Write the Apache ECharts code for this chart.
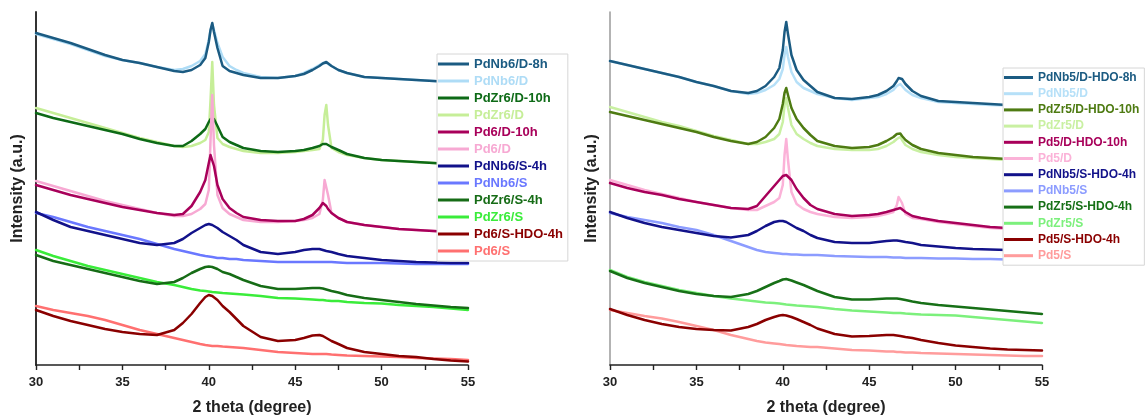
<!DOCTYPE html>
<html>
<head>
<meta charset="utf-8">
<script src="https://cdn.jsdelivr.net/npm/echarts@6/dist/echarts.min.js"></script>
<style>
  html, body { margin: 0; padding: 0; background: #fff; }
  #chart { width: 1147px; height: 417px; }
</style>
</head>
<body>
<div id="chart"></div>
<script>
// 2θ sampling positions (degree), shared by every pattern
const twoTheta = [30,31,32,33,34,35,36,37,38,38.5,39,39.5,39.8,40,40.1,40.2,40.3,40.5,40.8,41.2,41.6,42,43,44,45,45.5,46,46.4,46.6,46.7,46.8,46.9,47.1,47.5,48,49,50,51,52,53,54,55];
const tickLabels = ['30', '35', '40', '45', '50', '55'];

// Panel 1 — intensities (a.u., offset-stacked)
const pdNb6D8h = [332,327,322,316,310,305,302,298,294,293,295,300,307,323,335,342,333,317,299,294,292,290,287,287,289,291,295,299,301.5,303,303,302,299,295,292,288,287,286,285,284,283,282];
const pdNb6D = [331,326,321,315,309,305,302,298,295,296,299,304,311,325,335,341,335,322,308,299,295,292,288,287,289,292,296,300,302,303,302,301,299,295,292,288,287,286,285,284,283,282];
const pdZr6D10h = [252,247,243,239,235,231,226,222,219,219,224,231,236,243,246,248,246,239,228,223,220,217,214,213,214,215,217,219,221,221.5,221,220,218,215,211,207,205,204,203,202,201,200];
const pdZr6D = [257,252,247,242,237,232,227,223,219,218,219,222,225,233,265,303,260,227,221,218,216,214,212,212,213,214,215,216,225,250,260,240,217,213,210,207,205,204,203,202,201,200];
const pd6D10h = [180,175,170,166,162,158,155,152,150,151,159,173,185,202,210,209,199,180,166,157,152,148,145,144,144,146,150,157,162,161,159,156,152,147,143,140,138,136,135,134,133,133];
const pd6D = [184,179,174,169,164,160,156,152,149,149,151,156,161,175,225,270,220,170,157,151,148,145,143,143,144,145,147,151,165,185,187,170,152,147,143,140,138,136,135,134,133,133];
const pdNb6S4h = [153,145,138,134,130,126,122,120,122,126,132,137,140,141,141,140,139,137,133,129,125,120,113,111,113,115,116,116,115,115,114,114,113,111,109,107,105,104,103,102.5,102,102];
const pdNb6S = [152,148,143,138,134,130,126,121,116,114,112,110,109,108.5,108,108,108,107,107,106,106,105,104,103,103,103,103,103,103,103,103,103,103,102.5,102,102,102,101.5,101,101,101,101];
const pdZr6S4h = [110,104,100,96,92,88,84,81,83,87,92,96,98,98.5,98.5,98,97.5,96,93,91,88,85,79,76,76,76.5,77,77,76.5,76,75.5,75,74,72.5,70,67,65,63,61,59.5,58,57];
const pdZr6S = [115,109,104,99,95,91,87,83,80,78,76,74.5,74,73.5,73,73,73,72.5,72,71.5,71,70.5,69,67,66.5,66,65.5,65,65,65,64.5,64.5,64,64,63,62,61.5,60,59,58,56.5,55];
const pd6SHdo4h = [55,49,44,40,36,33,31,30,35,42,51,62,68,70,70,69,68,65,59,53,46,39,28,24,25,27,29.5,30,29,28,27,26,24,21,17,13,11,9,8,6,4.5,3.5];
const pd6S = [59,55,52,49,45,40,35,31,27,25,23,21,20,19.5,19.5,19,19,19,18.5,18,17.5,17,15,13,12,11.5,11,11,11,11,11,10.5,10.5,10,9.5,9,8.5,8,7,6.5,6,5];

// Panel 2 — intensities (a.u., offset-stacked)
const pdNb5DHdo8h = [304,300,296,292,288,283,279,274,272,274,279,288,297,315,333,343,331,310,295,285,279,273,267,266,268,270,274,279,284,287,288,286,281,274,269,264,263,262,261,260,259.5,259];
const pdNb5D = [304,300,296,292,288,283,279,274,271,272,275,280,286,296,310,318,308,293,283,277,274,271,267,265,267,268,271,275,279,281,281,279,275,270,267,263,262,261,260,259.5,259,258.5];
const pdZr5DHdo10h = [253,249,245,241,237,233,228,224,221,223,228,237,246,261,272,277,270,257,246,237,230,224,219,217,218,220,224,228,231,232,231.5,229,225,220,216,212,210,208,207,206,205,204];
const pdZr5D = [258,253,248,243,239,234,229,225,221,221,223,226,231,243,260,267,257,240,231,226,222,219,216,215,215,216,219,223,226,228,228,225,220,216,213,210,208,207,206,205,204,203];
const pd5DHdo10h = [182,177,173,170,166,163,160,157,156,159,169,179,185,189,190,190,189,185,176,167,160,156,151,149,150,151,153,155,156,156.5,157,156,153,149,147,144,142,140,138,137,136,135.5];
const pd5D = [185,180,175,171,167,163,160,157,155,155,159,163,167,180,210,226,205,173,161,156,153,151,148,147,148,149,151,153,160,168,170,162,151,147,146,143,141,139,137,136,135,135];
const pdNb5SHdo4h = [153,147,142,138,135,132,129,127.5,130,134,139,143,144,144,143.5,143,142,140,137,134,130,127,123,122,122,123,124,124.5,124.5,124.5,124,124,123,122,120,118.5,117,116,115.5,115,114.5,114];
const pdNb5S = [152,148,145,142,138,135,130,124,118,115,113,112,111.5,111,111,111,111,110.5,110.5,110,110,110,109,108.5,108,108,108,107.5,107.5,107.5,107.5,107.5,107,107,107,106.5,106.5,106,106,105.5,105.5,105.5];
const pdZr5SHdo4h = [94,87,82,78,74,71,69,68,71,74,78,82,84,85.5,86,86,85.5,84.5,82.5,80,77,74,68,65.5,65.5,66,66.5,66.5,66.5,66,66,65.5,65,63.5,62,60,58.5,57,55.5,54,52.5,51];
const pdZr5S = [95,88,83,79,75,72,69,66.5,64.5,63.5,62.5,62,61.5,61,61,60.5,60.5,60,59.5,59,58.5,58,56,54.5,53.5,53,52.5,52,52,52,52,51.5,51.5,51,50.5,50,49.5,48,46.5,45,43.5,42];
const pd5SHdo4h = [56,50,45,41,38,36,35,34.5,38,41,45,48,49.5,50,50,49.5,49,48,46,43,40,36.5,31,28.5,29,29.5,30,30,29.5,29,29,28.5,28,27,25,22,19.5,18,16.5,15.5,15,14.5];
const pd5S = [55,52,49,46.5,43,39,35,30,26,24,22.5,21.5,21,20.5,20.5,20,20,19.5,19,18.5,18,18,16.5,15,14.5,14,13.5,13.5,13,13,13,13,12.5,12.5,12,11.5,11,10.5,10,9.5,9,9];

const leftNames = ['PdNb6/D-8h', 'PdNb6/D', 'PdZr6/D-10h', 'PdZr6/D', 'Pd6/D-10h', 'Pd6/D',
  'PdNb6/S-4h', 'PdNb6/S', 'PdZr6/S-4h', 'PdZr6/S', 'Pd6/S-HDO-4h', 'Pd6/S'];
const leftValues = [pdNb6D8h, pdNb6D, pdZr6D10h, pdZr6D, pd6D10h, pd6D,
  pdNb6S4h, pdNb6S, pdZr6S4h, pdZr6S, pd6SHdo4h, pd6S];
const rightNames = ['PdNb5/D-HDO-8h', 'PdNb5/D', 'PdZr5/D-HDO-10h', 'PdZr5/D', 'Pd5/D-HDO-10h', 'Pd5/D',
  'PdNb5/S-HDO-4h', 'PdNb5/S', 'PdZr5/S-HDO-4h', 'PdZr5/S', 'Pd5/S-HDO-4h', 'Pd5/S'];
const rightValues = [pdNb5DHdo8h, pdNb5D, pdZr5DHdo10h, pdZr5D, pd5DHdo10h, pd5D,
  pdNb5SHdo4h, pdNb5S, pdZr5SHdo4h, pdZr5S, pd5SHdo4h, pd5S];

// Line colours, in legend order
const leftColors = ['#1b5b82', '#aedcf6', '#0d6a16', '#c6ee98', '#a8005a', '#f7a9d3',
  '#12128a', '#6a78ff', '#166c16', '#3aec3a', '#8a0000', '#ff7070'];
const rightColors = ['#1b5b82', '#b6e0f8', '#4e7b12', '#c9f0a2', '#a8005a', '#fbb2d8',
  '#12128a', '#8c9cff', '#177017', '#7cf07c', '#8a0000', '#ff9c9c'];

const FONT = 'Liberation Sans, Arial, sans-serif';
const INK = '#222';

function makeSeries(names, values, colors, panel) {
  // each pale pattern is drawn first, its treated counterpart on top
  const order = [1, 0, 3, 2, 5, 4, 7, 6, 9, 8, 11, 10];
  return order.map(i => ({
    name: names[i],
    type: 'line',
    xAxisIndex: panel,
    yAxisIndex: panel,
    data: twoTheta.map((t, k) => [t, values[i][k]]),
    showSymbol: false,
    smooth: false,
    lineStyle: { width: 2.5, color: colors[i], join: 'round', cap: 'round' },
    itemStyle: { color: colors[i] },
    emphasis: { disabled: true },
    silent: true
  }));
}

function makeXAxis(panel) {
  return {
    gridIndex: panel,
    type: 'value',
    min: 30,
    max: 55,
    interval: 2.5,
    axisLine: { show: true, onZero: false, lineStyle: { color: INK, width: 1.6 } },
    axisTick: { show: true, inside: false, length: 5, lineStyle: { color: INK, width: 1.4 } },
    axisLabel: {
      formatter: v => (tickLabels.includes(String(v)) ? String(v) : ''),
      fontFamily: FONT, fontWeight: 'bold', fontSize: 13, color: INK, margin: 11
    },
    splitLine: { show: false },
    name: '2 theta (degree)',
    nameLocation: 'middle',
    nameGap: 35,
    nameTextStyle: { fontFamily: FONT, fontWeight: 'bold', fontSize: 16, color: INK }
  };
}

function makeYAxis(panel, axisColor, axisWidth) {
  return {
    gridIndex: panel,
    type: 'value',
    min: 0,
    max: 353,
    axisLine: { show: true, onZero: false, lineStyle: { color: axisColor, width: axisWidth } },
    axisTick: { show: false },
    axisLabel: { show: false },
    splitLine: { show: false },
    name: 'Intensity (a.u.)',
    nameLocation: 'middle',
    nameRotate: 90,
    nameGap: 10,
    nameTextStyle: { fontFamily: FONT, fontWeight: 'bold', fontSize: 16, color: INK }
  };
}

function makeLegend(names, colors, left, top, fontSize, rowHeight, gap, iconWidth, padding) {
  return {
    left: left,
    top: top,
    orient: 'vertical',
    selectedMode: false,
    icon: 'rect',
    itemWidth: iconWidth,
    itemHeight: 3,
    itemGap: gap,
    padding: padding,
    borderColor: '#d6d6d6',
    borderWidth: 1,
    backgroundColor: '#fff',
    textStyle: { fontFamily: FONT, fontWeight: 'bold', fontSize: fontSize, lineHeight: rowHeight },
    data: names.map((n, i) => ({ name: n, textStyle: { color: colors[i] } }))
  };
}

const chart = echarts.init(document.getElementById('chart'), null, { renderer: 'canvas' });
chart.setOption({
  animation: false,
  backgroundColor: '#fff',
  grid: [
    { left: 36, top: 12, width: 432, height: 353, outerBoundsMode: 'none' },
    { left: 610, top: 12, width: 432, height: 353, outerBoundsMode: 'none' }
  ],
  xAxis: [makeXAxis(0), makeXAxis(1)],
  yAxis: [makeYAxis(0, '#333', 2), makeYAxis(1, '#9a9a9a', 1.5)],
  legend: [
    makeLegend(leftNames, leftColors, 437, 54, 13, 14, 3, 31, [3, 5, 3, 1]),
    makeLegend(rightNames, rightColors, 1003, 68, 12, 13, 3.2, 29, [3, 5, 3, 1])
  ],
  series: [
    ...makeSeries(leftNames, leftValues, leftColors, 0),
    ...makeSeries(rightNames, rightValues, rightColors, 1)
  ]
});
</script>
</body>
</html>
